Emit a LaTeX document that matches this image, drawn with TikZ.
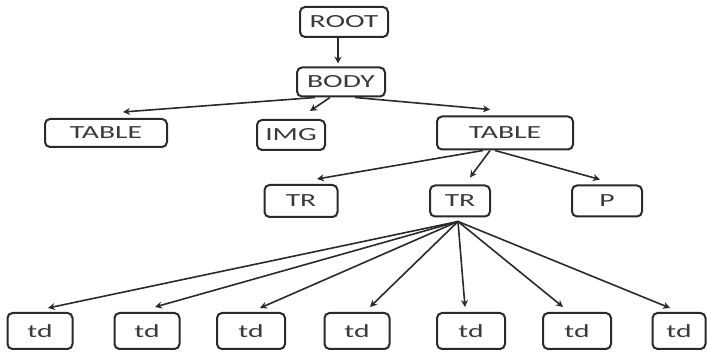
\documentclass[tikz,border=0pt]{standalone}
\usepackage{fontspec}
\usepackage{graphicx}
\setmainfont{Carlito}
\usetikzlibrary{arrows.meta}
\definecolor{boxline}{HTML}{2A2A2A}
\definecolor{txt}{HTML}{3A3A3A}
\newcommand{\wide}[1]{\scalebox{1.6}[1]{#1}}
\tikzset{
  tbox/.style={draw=boxline, line width=2pt, rounded corners=5pt, fill=white,
    inner sep=0pt, text=txt, font=\fontsize{18.5}{20}\selectfont},
  conn/.style={draw=boxline, line width=1.6pt, -{Stealth[length=7pt,width=7pt]}}
}
\begin{document}
\begin{tikzpicture}[x=1pt,y=-1pt]
\useasboundingbox (0,0) rectangle (707,352);
% nodes
\node[tbox, minimum width=88pt, minimum height=30pt] (root) at (344,22) {\wide{ROOT}};
\node[tbox, minimum width=88pt, minimum height=29pt] (body) at (341,82) {\wide{BODY}};
\node[tbox, minimum width=122pt, minimum height=28pt] (tableL) at (106,133) {\wide{TABLE}};
\node[tbox, minimum width=68pt, minimum height=30pt] (img) at (291,135) {\wide{IMG}};
\node[tbox, minimum width=136pt, minimum height=33pt] (tableR) at (505,133) {\wide{TABLE}};
\node[tbox, minimum width=73pt, minimum height=32pt] (trL) at (301,201) {\wide{TR}};
\node[tbox, minimum width=60pt, minimum height=31pt] (trM) at (460,201) {\wide{TR}};
\node[tbox, minimum width=70pt, minimum height=31pt] (p) at (607,201) {\wide{P}};
\node[tbox, minimum width=65pt, minimum height=36pt] (td1) at (40,331) {\wide{td}};
\node[tbox, minimum width=65pt, minimum height=36pt] (td2) at (147,331) {\wide{td}};
\node[tbox, minimum width=68pt, minimum height=36pt] (td3) at (251,331) {\wide{td}};
\node[tbox, minimum width=65pt, minimum height=36pt] (td4) at (357,331) {\wide{td}};
\node[tbox, minimum width=68pt, minimum height=36pt] (td5) at (471,331) {\wide{td}};
\node[tbox, minimum width=68pt, minimum height=36pt] (td6) at (577,331) {\wide{td}};
\node[tbox, minimum width=53pt, minimum height=36pt] (td7) at (679,331) {\wide{td}};
% connectors
\draw[conn] ([xshift=-6pt]root.south) -- ([xshift=-3pt,yshift=3pt]body.north);
\draw[conn] ([xshift=-26pt]body.south) -- ([xshift=17pt,yshift=6pt]tableL.north);
\draw[conn] ([xshift=-11pt]body.south) -- ([xshift=19pt,yshift=8pt]img.north);
\draw[conn] ([xshift=14pt]body.south) -- ([xshift=-15pt,yshift=6pt]tableR.north);
\draw[conn] ([xshift=-22pt]tableR.south) -- ([xshift=16pt,yshift=5pt]trL.north);
\draw[conn] ([xshift=-15pt]tableR.south) -- ([xshift=10pt,yshift=7pt]trM.north);
\draw[conn] ([xshift=-10pt]tableR.south) -- ([xshift=-7pt,yshift=5pt]p.north);
\coordinate (hub) at ([xshift=-2pt,yshift=-4pt]trM.south);
\draw[conn] (hub) -- ([xshift=8pt,yshift=4pt]td1.north);
\draw[conn] (hub) -- ([xshift=8pt,yshift=5pt]td2.north);
\draw[conn] (hub) -- ([xshift=9pt,yshift=4pt]td3.north);
\draw[conn] (hub) -- ([xshift=13pt,yshift=5pt]td4.north);
\draw[conn] (hub) -- ([xshift=-6pt,yshift=5pt]td5.north);
\draw[conn] (hub) -- ([xshift=-14pt,yshift=5pt]td6.north);
\draw[conn] (hub) -- ([xshift=-9pt,yshift=4pt]td7.north);
\end{tikzpicture}
\end{document}
